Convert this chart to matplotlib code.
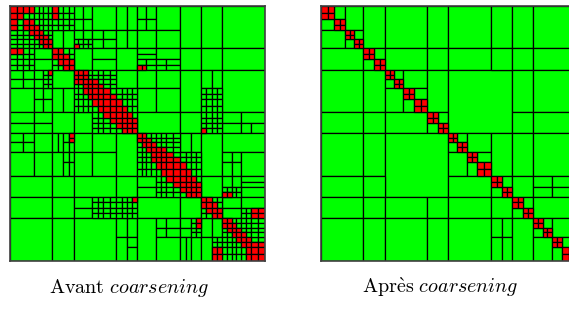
import matplotlib
matplotlib.use('Agg')
import matplotlib.pyplot as plt
from matplotlib.patches import Rectangle

plt.rcParams['mathtext.fontset'] = 'cm'

# bornes des clusters feuilles (48 feuilles fines), en unites de la matrice
bornes = [0, 6.7, 13.3, 18.7, 24, 28.7, 33.3, 37.8, 42.3, 47.8, 53.3, 58.7,
          64, 68.5, 73, 77.7, 82.3, 87.7, 93, 99.7, 106.3, 111.8, 117.3, 122.3,
          127.3, 131.8, 136.3, 141.2, 146, 151.2, 156.3, 163.2, 170, 175.7,
          181.3, 186.3, 191.3, 196.5, 201.7, 207, 212.3, 217, 221.7, 226.2,
          230.7, 236, 241.3, 248, 254.7]
N = bornes[-1]

# --- apres coarsening : blocs (lig0, lig1, col0, col1) en feuilles grossieres (1 = 2 fines)
apres_blocs = [(0, 1, 1, 2), (0, 2, 2, 4), (2, 3, 3, 4),
               (0, 4, 4, 6), (4, 5, 5, 6),
               (0, 4, 6, 10), (4, 6, 6, 10), (6, 7, 7, 8), (6, 8, 8, 10), (8, 9, 9, 10),
               (0, 4, 10, 12), (4, 6, 10, 12), (6, 10, 10, 12), (10, 11, 11, 12),
               (0, 4, 12, 16), (4, 6, 12, 16), (6, 12, 12, 18), (12, 13, 13, 14),
               (12, 14, 14, 16), (14, 15, 15, 16),
               (0, 4, 16, 18), (4, 6, 16, 18), (12, 16, 16, 18), (16, 17, 17, 18),
               (0, 4, 18, 20), (4, 6, 18, 20), (6, 10, 18, 20), (10, 12, 18, 20),
               (12, 16, 18, 20), (16, 18, 18, 20), (18, 19, 19, 20),
               (0, 4, 20, 24), (4, 6, 20, 24), (6, 10, 20, 24), (10, 12, 20, 24),
               (12, 16, 20, 24), (16, 17, 20, 22), (16, 17, 22, 24), (17, 18, 20, 22),
               (17, 18, 22, 24), (18, 20, 20, 24), (20, 21, 21, 22), (20, 22, 22, 24),
               (22, 23, 23, 24)]
apres_denses = list(range(24))  # feuilles grossieres avec bloc dense sur la diagonale

# --- avant coarsening : blocs en feuilles fines (triangle superieur)
avant_blocs = [(4, 8, 8, 10), (4, 8, 10, 12),
               (0, 2, 12, 14), (2, 4, 12, 14), (0, 2, 14, 16), (2, 4, 14, 16),
               (4, 6, 12, 14), (4, 6, 14, 16), (8, 12, 12, 16),
               (0, 4, 16, 20), (4, 6, 16, 18), (6, 8, 16, 18), (4, 6, 18, 20), (6, 8, 18, 20),
               (8, 10, 16, 20), (10, 12, 16, 20),
               (0, 4, 20, 22), (0, 4, 22, 24), (4, 8, 20, 22), (4, 8, 22, 24), (8, 12, 20, 24),
               (12, 16, 20, 24),
               (0, 2, 24, 26), (0, 2, 26, 28), (2, 4, 24, 26), (2, 4, 26, 28), (4, 8, 24, 28),
               (0, 4, 28, 32), (4, 8, 28, 32), (0, 8, 32, 36), (0, 8, 36, 40), (0, 8, 40, 48),
               (8, 9, 24, 28), (9, 10, 24, 28), (10, 11, 24, 26), (10, 11, 26, 28),
               (11, 12, 24, 26), (11, 12, 26, 28),
               (8, 10, 28, 32), (10, 11, 28, 30), (10, 11, 30, 32), (11, 12, 28, 30), (11, 12, 30, 32),
               (8, 12, 32, 36), (8, 12, 36, 40), (8, 12, 40, 48),
               (12, 16, 24, 28), (12, 16, 28, 32), (16, 20, 24, 28), (16, 20, 28, 32),
               (12, 20, 32, 36), (12, 16, 36, 38), (12, 16, 38, 40), (12, 20, 40, 48),
               (20, 24, 24, 32), (20, 24, 32, 36),
               (20, 22, 40, 44), (20, 22, 44, 48), (22, 24, 40, 44), (22, 24, 44, 46), (22, 24, 46, 48),
               (24, 28, 32, 34), (24, 28, 34, 36), (24, 32, 36, 40), (24, 28, 40, 48),
               (28, 30, 40, 42), (28, 30, 42, 44), (30, 32, 40, 42), (30, 32, 42, 44), (28, 32, 44, 48),
               (32, 36, 36, 40), (32, 34, 40, 42), (32, 34, 42, 44),
               (32, 33, 44, 48), (33, 34, 44, 48), (34, 36, 44, 48),
               (36, 38, 40, 44), (38, 40, 40, 44), (36, 38, 44, 48)]
# zones decoupees en feuilles fines
avant_fines = [(0, 4, 0, 4), (4, 8, 4, 8), (8, 12, 8, 12), (0, 4, 4, 8), (0, 4, 8, 12),
               (6, 8, 12, 16), (12, 16, 12, 16), (16, 20, 16, 20), (20, 24, 20, 24),
               (12, 16, 16, 20), (16, 20, 20, 24), (16, 20, 36, 40), (20, 24, 36, 40),
               (24, 28, 24, 28), (28, 32, 28, 32), (24, 28, 28, 32), (28, 32, 32, 36),
               (32, 36, 32, 36), (34, 36, 40, 44), (36, 40, 36, 40), (38, 40, 44, 48),
               (40, 44, 40, 44), (44, 48, 44, 48), (40, 44, 44, 48)]
# blocs denses (colonnes >= ligne) pour chaque ligne fine
avant_rouges = [[0, 1, 2, 3, 8], [1, 8], [2, 3], [3, 4], [4, 5], [5, 6], [6, 7], [7, 12],
                [8, 9], [9, 10], [10, 11], [11, 24, 25], [12, 13, 14], [13, 14], [14, 15, 16],
                [15, 16, 17], [16, 17, 18], [17, 18, 19], [18, 19, 20], [19, 20, 21],
                [20, 21, 22], [21, 22, 23], [22, 23], [23, 36],
                [24, 25], [25, 26], [26, 27], [27, 28, 29], [28, 29, 30], [29, 30, 31],
                [30, 31, 32], [31, 32, 33], [32, 33, 34], [33, 34, 35], [34, 35], [35, 40, 41],
                [36, 37], [37, 38], [38, 39, 46, 47], [39, 46, 47], [40, 41], [41, 42],
                [42, 43], [43, 44], [44, 45], [45, 46, 47], [46, 47], [47]]

VERT = '#00ff00'
ROUGE = '#ff0000'


def bloc(ax, r0, r1, c0, c1, couleur, b=bornes):
    ax.add_patch(Rectangle((b[c0], b[r0]), b[c1] - b[c0], b[r1] - b[r0],
                           facecolor=couleur, edgecolor='black', linewidth=0.9))


def sym(liste):
    res = []
    for r0, r1, c0, c1 in liste:
        res.append((r0, r1, c0, c1))
        if (r0, r1) != (c0, c1):
            res.append((c0, c1, r0, r1))
    return res


def cadre(ax):
    ax.set_xlim(0, N)
    ax.set_ylim(N, 0)
    ax.set_xticks([])
    ax.set_yticks([])
    ax.add_patch(Rectangle((0, 0), N, N, facecolor=VERT, edgecolor='none'))
    for s in ax.spines.values():
        s.set_color('#404040')
        s.set_linewidth(1.2)


W, H = 569, 309
fig = plt.figure(figsize=(W / 100, H / 100), dpi=100)
ax1 = fig.add_axes([10 / W, 1 - (6 + 254.7) / H, 254.7 / W, 254.7 / H])
ax2 = fig.add_axes([321 / W, 1 - (6 + 254.7) / H, 254.7 / W, 254.7 / H])

# avant
cadre(ax1)
for r0, r1, c0, c1 in sym(avant_blocs):
    bloc(ax1, r0, r1, c0, c1, VERT)
for r0, r1, c0, c1 in sym(avant_fines):
    for i in range(r0, r1):
        for j in range(c0, c1):
            bloc(ax1, i, i + 1, j, j + 1, VERT)
for i, cols in enumerate(avant_rouges):
    for j in cols:
        bloc(ax1, i, i + 1, j, j + 1, ROUGE)
        if j != i:
            bloc(ax1, j, j + 1, i, i + 1, ROUGE)

# apres
cadre(ax2)
gros = bornes[::2]
for r0, r1, c0, c1 in sym(apres_blocs):
    bloc(ax2, r0, r1, c0, c1, VERT, gros)
for k in apres_denses:
    for i in (2 * k, 2 * k + 1):
        for j in (2 * k, 2 * k + 1):
            bloc(ax2, i, i + 1, j, j + 1, ROUGE)

fig.text(129 / W, 1 - 293 / H, r'$\mathrm{Avant}\ \mathit{coarsening}$',
         ha='center', va='baseline', fontsize=14.5)
fig.text(440 / W, 1 - 293 / H, r'$\mathrm{Apr\grave{e}s}\ \mathit{coarsening}$',
         ha='center', va='baseline', fontsize=14.5)

fig.savefig('out.png', dpi=100)
